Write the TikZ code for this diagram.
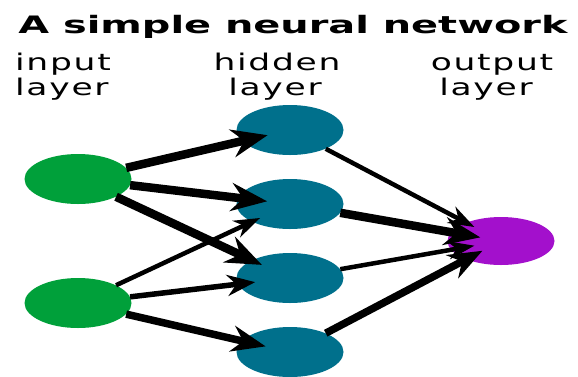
\documentclass[tikz,border=0pt]{standalone}
\usepackage{fontspec}
\usetikzlibrary{arrows.meta,shapes.geometric}
\newfontfamily\labfont[LetterSpace=5]{DejaVu Sans}
\newfontfamily\titfont{DejaVu Sans}
\definecolor{ingreen}{RGB}{0,160,58}
\definecolor{hidteal}{RGB}{0,112,140}
\definecolor{outpurple}{RGB}{163,16,204}
\tikzset{
  neuron/.style={ellipse, inner sep=0pt, minimum width=107pt, minimum height=50pt},
  lab/.style={inner sep=0pt, font=\fontsize{23}{23}\labfont},
  arA/.style={line width=8.5pt, -{Stealth[length=36pt,width=28pt,inset=12pt]}},
  arB/.style={line width=7.5pt, -{Stealth[length=34pt,width=26pt,inset=11pt]}},
  arC/.style={line width=5.5pt, -{Stealth[length=28pt,width=21pt,inset=9pt]}},
  arD/.style={line width=4.5pt, -{Stealth[length=26pt,width=18pt,inset=8pt]}}
}
\begin{document}
\begin{tikzpicture}[x=1pt,y=-1pt]
\useasboundingbox (0,0) rectangle (578,376);
% title
\node[inner sep=0pt, anchor=base, font=\fontsize{24}{24}\titfont\bfseries] (title) at (293,33) {\scalebox{1.66}[1]{A simple neural network}};
% labels
\node[lab, anchor=base west] (inl1) at (15,70) {\scalebox{1.5}[1]{input}};
\node[lab, anchor=base west] (inl2) at (15,95) {\scalebox{1.5}[1]{layer}};
\node[lab, anchor=base] (hil1) at (277,70) {\scalebox{1.5}[1]{hidden}};
\node[lab, anchor=base] (hil2) at (275,95) {\scalebox{1.5}[1]{layer}};
\node[lab, anchor=base] (oul1) at (492,70) {\scalebox{1.5}[1]{output}};
\node[lab, anchor=base] (oul2) at (486,95) {\scalebox{1.5}[1]{layer}};
% neurons
\node[neuron, fill=ingreen] (i1) at (78,179) {};
\node[neuron, fill=ingreen] (i2) at (78,303) {};
\node[neuron, fill=hidteal] (h1) at (290,130) {};
\node[neuron, fill=hidteal] (h2) at (290,204) {};
\node[neuron, fill=hidteal] (h3) at (290,278) {};
\node[neuron, fill=hidteal] (h4) at (290,352) {};
\node[neuron, fill=outpurple, minimum height=48pt] (o) at (501,241) {};
% connections
\draw[arA, shorten >=23pt] (i1) -- (h1.center);
\draw[arA, shorten >=23pt] (i1) -- (h2.center);
\draw[arA, shorten >=31pt] (i1) -- (h3.center);
\draw[arD, shorten >=33pt] (i2) -- (h2.center);
\draw[arC, shorten >=35pt] (i2) -- (h3.center);
\draw[arB, shorten >=25pt] (i2) -- (h4.center);
\draw[arD, shorten >=30pt] (h1) -- (o.center);
\draw[arA, shorten >=21pt] (h2) -- (o.center);
\draw[arD, shorten >=27pt] (h3) -- (o.center);
\draw[arB, shorten >=21pt] (h4) -- (o.center);
\end{tikzpicture}
\end{document}
